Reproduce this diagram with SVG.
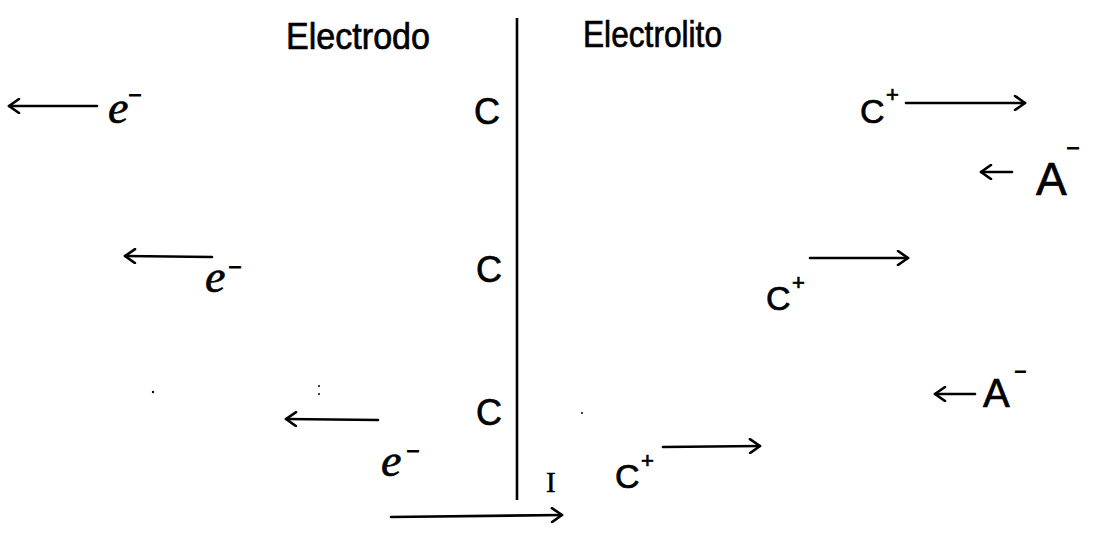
<svg xmlns="http://www.w3.org/2000/svg" width="1118" height="535" viewBox="0 0 1118 535">
<style>
.t{font-family:"Liberation Sans",Arial,sans-serif;fill:#000;stroke:#000;stroke-width:0.7}
.e{font-family:"Liberation Serif","Times New Roman",serif;font-style:italic;fill:#000;stroke:#000;stroke-width:0.7}
.s{font-family:"Liberation Serif","Times New Roman",serif;fill:#000;stroke:#000;stroke-width:0.5}
.m{font-family:"Liberation Sans",Arial,sans-serif;font-weight:bold;fill:#000}
.c{stroke:#000;stroke-width:2.6;fill:none;stroke-linecap:round}
</style>
<defs>
<marker id="ah" markerUnits="userSpaceOnUse" markerWidth="14" markerHeight="16" refX="12" refY="8" orient="auto">
<path d="M2,1 L12,8 L2,15" fill="none" stroke="#000" stroke-width="2.6" stroke-linecap="round" stroke-linejoin="round"/>
</marker>
</defs>
<rect width="1118" height="535" fill="#fff"/>
<g id="interface">
<line x1="517" y1="18" x2="517" y2="500" stroke="#000" stroke-width="2.6"/>
</g>
<g id="label-electrodo"><text class="t" x="286" y="49" font-size="37" textLength="144" lengthAdjust="spacingAndGlyphs">Electrodo</text></g>
<g id="label-electrolito"><text class="t" x="583" y="47" font-size="37" textLength="139" lengthAdjust="spacingAndGlyphs">Electrolito</text></g>
<g id="C1"><text class="t" x="474" y="124" font-size="36">C</text></g>
<g id="C2"><text class="t" x="476" y="282" font-size="36">C</text></g>
<g id="C3"><text class="t" x="476" y="425" font-size="36">C</text></g>
<g id="e1"><text class="e" x="108" y="123" font-size="46">e</text><text class="m" x="128" y="103" font-size="24">−</text></g>
<g id="e2"><text class="e" x="205" y="292" font-size="46">e</text><text class="m" x="228" y="275" font-size="24">−</text></g>
<g id="e3"><text class="e" x="381" y="476" font-size="46">e</text><text class="m" x="406" y="459" font-size="24">−</text></g>
<g id="Cp1"><text class="t" x="860" y="123" font-size="34">C</text><text class="t" x="886" y="102" font-size="22">+</text></g>
<g id="Cp2"><text class="t" x="766" y="310" font-size="34">C</text><text class="t" x="792" y="290" font-size="22">+</text></g>
<g id="Cp3"><text class="t" x="615" y="488" font-size="34">C</text><text class="t" x="641" y="468" font-size="22">+</text></g>
<g id="A1"><text class="t" x="1036" y="195" font-size="46">A</text><text class="m" x="1066" y="156" font-size="24">−</text></g>
<g id="A2"><text class="t" x="983" y="407" font-size="40">A</text><text class="m" x="1014" y="379" font-size="22">−</text></g>
<g id="I"><text class="s" x="546" y="492" font-size="29">I</text></g>
<g id="connectors">
<line class="c" x1="97" y1="106" x2="9" y2="106" marker-end="url(#ah)"/>
<line class="c" x1="212" y1="257" x2="125" y2="256" marker-end="url(#ah)"/>
<line class="c" x1="378" y1="420" x2="286" y2="419" marker-end="url(#ah)"/>
<line class="c" x1="906" y1="103" x2="1025" y2="103" marker-end="url(#ah)"/>
<line class="c" x1="810" y1="258" x2="908" y2="258" marker-end="url(#ah)"/>
<line class="c" x1="663" y1="447" x2="760" y2="446" marker-end="url(#ah)"/>
<line class="c" x1="1012" y1="172" x2="981" y2="172" marker-end="url(#ah)"/>
<line class="c" x1="975" y1="394" x2="935" y2="394" marker-end="url(#ah)"/>
<line class="c" x1="391" y1="517" x2="562" y2="515" marker-end="url(#ah)"/>
</g>
<g id="specks" fill="#000">
<circle cx="153" cy="392" r="1.2"/>
<circle cx="319" cy="386" r="1"/>
<circle cx="319" cy="394" r="1"/>
<circle cx="582" cy="413" r="1"/>
</g>
</svg>
